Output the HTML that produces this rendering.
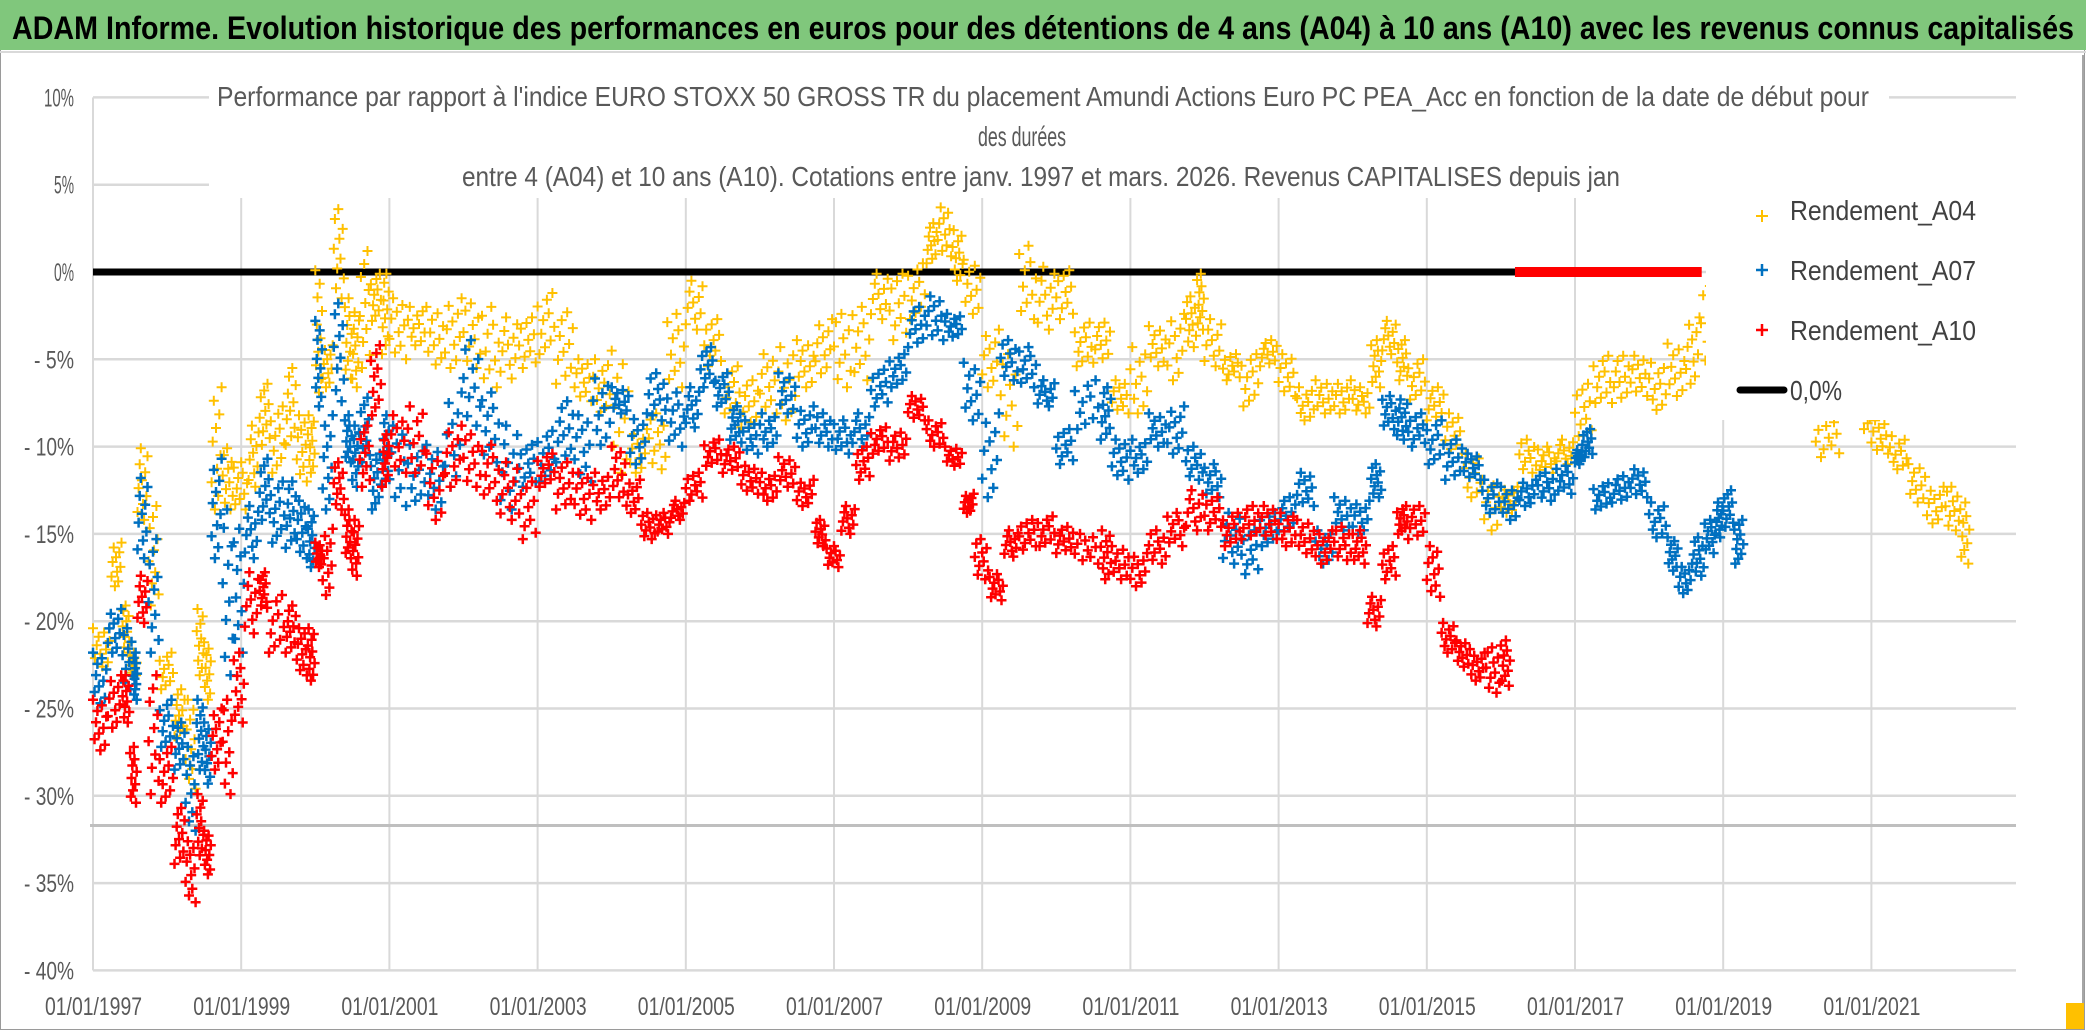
<!DOCTYPE html>
<html><head><meta charset="utf-8"><style>
html,body{margin:0;padding:0;background:#fff}
svg{display:block}
text{font-family:"Liberation Sans",sans-serif}
</style></head><body>
<svg id="chart" xmlns="http://www.w3.org/2000/svg" width="2086" height="1031" viewBox="0 0 2086 1031">
<rect x="0" y="0" width="2086" height="1031" fill="#fff"/>
<rect x="0.5" y="0.5" width="2084" height="1029" fill="none" stroke="#9a9a9a" stroke-width="1"/>
<line x1="2083" y1="55" x2="2083" y2="1028" stroke="#a6a6a6" stroke-width="2"/>
<rect x="0" y="0" width="2086" height="50" fill="#80c77c"/>
<line x1="0" y1="52" x2="2086" y2="52" stroke="#d9d9d9" stroke-width="2"/>
<text x="12" y="39" font-size="32" font-weight="bold" fill="#000" textLength="2062" lengthAdjust="spacingAndGlyphs">ADAM Informe. Evolution historique des performances en euros pour des détentions de 4 ans (A04) à 10 ans (A10) avec les revenus connus capitalisés</text>
<g id="grid"></g>
<rect x="209" y="58" width="1680" height="139" fill="#fff"/>
<text x="217" y="106" font-size="28" fill="#595959" textLength="1652" lengthAdjust="spacingAndGlyphs">Performance par rapport à l'indice EURO STOXX 50 GROSS TR  du placement Amundi Actions Euro PC PEA_Acc en fonction de la date de début pour</text>
<text x="978" y="146" font-size="28" fill="#595959" textLength="88" lengthAdjust="spacingAndGlyphs">des durées</text>
<text x="462" y="186" font-size="28" fill="#595959" textLength="1158" lengthAdjust="spacingAndGlyphs">entre 4 (A04) et 10 ans (A10). Cotations entre janv. 1997 et mars. 2026. Revenus CAPITALISES depuis jan</text>
<g id="ylabels"></g>
<g id="xlabels"></g>
<g id="zero"></g>
<g id="s04"></g>
<g id="s07"></g>
<g id="s10"></g>
<g id="legend">
<rect x="1706" y="178" width="310" height="242" fill="#fff"/>
<g><path d="M1756 216h12M1762 210v12" stroke="#ffc000" stroke-width="2"/><text x="1790" y="220" font-size="28" fill="#404040" textLength="186" lengthAdjust="spacingAndGlyphs">Rendement_A04</text></g>
<g><path d="M1756 270h12M1762 264v12" stroke="#0070c0" stroke-width="2.5"/><text x="1790" y="280" font-size="28" fill="#404040" textLength="186" lengthAdjust="spacingAndGlyphs">Rendement_A07</text></g>
<g><path d="M1756 330h12M1762 324v12" stroke="#ff0000" stroke-width="2.5"/><text x="1790" y="340" font-size="28" fill="#404040" textLength="186" lengthAdjust="spacingAndGlyphs">Rendement_A10</text></g>
<g><line x1="1740" y1="390" x2="1784" y2="390" stroke="#000" stroke-width="7" stroke-linecap="round"/><text x="1790" y="400" font-size="28" fill="#404040" textLength="52" lengthAdjust="spacingAndGlyphs">0,0%</text></g>
</g>
<rect x="2066" y="1003" width="18" height="26" fill="#ffc000"/>
</svg>
<script>
const yTicks = [10,5,0,-5,-10,-15,-20,-25,-30,-35,-40];
const yTickLabels = ["10%","5%","0%","- 5%","- 10%","- 15%","- 20%","- 25%","- 30%","- 35%","- 40%"];
const xTicks = [1997,1999,2001,2003,2005,2007,2009,2011,2013,2015,2017,2019,2021];
const xTickLabels = ["01/01/1997","01/01/1999","01/01/2001","01/01/2003","01/01/2005","01/01/2007","01/01/2009","01/01/2011","01/01/2013","01/01/2015","01/01/2017","01/01/2019","01/01/2021"];
const refLineValue = -31.7;

const a04Dates = [1997.0,1997.25,1997.4,1997.5,1997.6,1997.75,1997.9,1998.1,1998.25,1998.4,1998.5,1998.6,1998.75,1998.9,1999.1,1999.25,1999.4,1999.6,1999.75,1999.9,2000.0,2000.1,2000.25,2000.4,2000.5,2000.6,2000.75,2000.9,2001.0,2001.25,2001.5,2001.75,2002.0,2002.25,2002.5,2002.75,2003.0,2003.25,2003.5,2003.75,2004.0,2004.25,2004.5,2004.75,2005.0,2005.25,2005.5,2005.75,2006.0,2006.25,2006.5,2006.75,2007.0,2007.25,2007.5,2007.75,2008.0,2008.25,2008.4,2008.6,2008.75,2009.0,2009.25,2009.5,2009.75,2010.0,2010.25,2010.5,2010.75,2011.0,2011.25,2011.5,2011.75,2011.9,2012.0,2012.25,2012.5,2012.75,2013.0,2013.25,2013.5,2013.75,2014.0,2014.25,2014.4,2014.6,2014.75,2015.0,2015.25,2015.5,2015.75,2016.0,2016.25,2016.5,2016.75,2017.0,2017.25,2017.5,2017.75,2018.0,2018.25,2018.5,2018.7,2019.0,2019.5,2020.25,2020.6,2020.9,2021.0,2021.25,2021.5,2021.75,2022.0,2022.2];
const a04Hi = [-20.4,-15.5,-19.1,-21.8,-10.1,-13.4,-21.8,-23.9,-24.5,-19.3,-21.2,-6.6,-10.1,-10.9,-8.8,-6.4,-7.7,-5.5,-8.2,-8.2,0.1,-4.2,3.6,-1.5,-2.3,1.2,-0.1,-0.1,-1.5,-2.0,-2.0,-1.5,-1.8,-2.0,-2.6,-2.6,-1.2,-2.3,-5.0,-5.0,-4.5,-9.0,-8.1,-2.4,-0.5,-2.7,-5.4,-6.2,-4.7,-4.3,-3.9,-2.7,-2.4,-2.0,-0.1,-0.1,0.5,2.8,3.7,2.4,0.7,-3.3,-4.7,1.5,0.3,0.1,-2.9,-2.9,-6.2,-4.3,-3.1,-2.4,-1.4,-0.1,-2.7,-4.7,-4.7,-3.9,-4.7,-6.6,-6.2,-6.2,-6.6,-3.9,-2.8,-3.9,-5.0,-6.6,-8.1,-10.4,-11.9,-12.3,-9.6,-10.0,-9.6,-6.4,-4.8,-4.8,-4.8,-5.2,-4.1,-2.6,-0.8,-3.0,-4.0,-8.6,-6.0,-6.0,-8.5,-9.4,-11.0,-12.3,-12.3,-13.2];
const a04Lo = [-22.6,-18.0,-21.8,-23.1,-14.2,-19.1,-23.9,-26.6,-29.6,-23.1,-24.5,-13.6,-13.6,-13.6,-12.3,-9.9,-11.5,-9.9,-12.0,-11.5,-6.9,-6.6,-1.5,-6.1,-6.6,-5.5,-2.8,-4.7,-5.0,-4.2,-5.3,-5.5,-5.5,-6.6,-6.1,-5.5,-4.7,-6.4,-7.4,-8.0,-11.5,-11.5,-11.3,-6.6,-3.3,-5.4,-8.1,-8.9,-8.1,-8.5,-6.6,-5.8,-6.6,-6.2,-2.7,-3.9,-2.7,0.5,0.9,-0.5,-2.4,-6.6,-10.0,-2.7,-3.3,-2.7,-5.4,-5.2,-8.1,-8.1,-5.4,-6.2,-4.3,-3.3,-5.4,-6.2,-7.7,-5.4,-7.1,-8.5,-8.1,-8.1,-8.1,-6.6,-4.7,-6.2,-7.3,-8.5,-10.4,-12.9,-14.8,-13.8,-11.5,-11.5,-11.0,-9.4,-7.5,-7.5,-7.1,-7.9,-7.1,-6.4,-5.6,-7.0,-8.0,-10.6,-8.0,-9.0,-10.4,-11.3,-13.2,-14.4,-14.8,-16.7];

const a07Dates = [1997.0,1997.2,1997.4,1997.55,1997.6,1997.75,1997.9,1998.1,1998.25,1998.4,1998.5,1998.6,1998.75,1998.9,1999.05,1999.25,1999.4,1999.6,1999.75,1999.9,2000.0,2000.1,2000.25,2000.4,2000.5,2000.6,2000.75,2000.9,2001.0,2001.25,2001.5,2001.75,2002.0,2002.25,2002.5,2002.75,2003.0,2003.25,2003.5,2003.75,2004.0,2004.25,2004.5,2004.75,2005.0,2005.2,2005.4,2005.6,2005.75,2006.0,2006.25,2006.5,2006.75,2007.0,2007.25,2007.5,2007.75,2008.0,2008.25,2008.5,2008.75,2009.0,2009.25,2009.5,2009.75,2010.0,2010.25,2010.6,2010.75,2011.0,2011.25,2011.5,2011.75,2012.0,2012.25,2012.5,2012.75,2013.0,2013.25,2013.5,2013.75,2014.0,2014.25,2014.4,2014.6,2014.75,2015.0,2015.25,2015.5,2015.75,2016.0,2016.25,2016.5,2016.75,2017.0,2017.1,2017.25,2017.5,2017.75,2018.0,2018.25,2018.4,2018.6,2018.75,2018.9,2019.0,2019.15];
const a07Hi = [-21.8,-19.3,-20.4,-21.8,-11.8,-15.3,-24.5,-25.8,-27.2,-24.5,-25.8,-10.7,-13.6,-14.7,-13.4,-10.7,-12.0,-12.0,-13.1,-13.6,-2.8,-8.2,-1.8,-8.2,-8.8,-7.2,-10.4,-8.2,-8.8,-9.9,-9.9,-6.9,-3.9,-6.9,-8.8,-9.9,-9.1,-7.4,-8.2,-6.1,-6.6,-8.1,-5.8,-6.9,-6.6,-4.3,-5.8,-7.7,-8.5,-8.1,-5.8,-7.7,-8.1,-8.5,-8.1,-5.6,-4.7,-2.0,-1.4,-2.4,-5.2,-8.1,-3.9,-4.3,-6.2,-9.0,-6.2,-6.6,-9.6,-9.6,-8.1,-7.7,-10.0,-11.0,-13.8,-14.8,-13.8,-12.9,-11.5,-14.8,-12.9,-13.1,-11.0,-7.1,-7.3,-8.1,-8.5,-9.6,-10.4,-11.9,-12.3,-11.9,-11.5,-11.1,-10.2,-9.0,-12.1,-11.7,-11.3,-13.2,-15.2,-16.7,-15.2,-14.2,-13.2,-12.5,-14.2];
const a07Lo = [-24.7,-21.8,-23.9,-24.5,-16.4,-21.8,-27.2,-28.5,-32.0,-28.5,-29.3,-16.4,-23.1,-21.8,-16.4,-14.2,-15.5,-15.8,-16.4,-16.9,-7.7,-13.6,-7.4,-10.9,-12.3,-10.9,-13.6,-12.3,-13.4,-13.1,-13.6,-12.3,-8.8,-10.9,-13.6,-12.3,-12.0,-10.9,-12.0,-9.9,-8.1,-11.0,-8.5,-10.0,-8.9,-6.6,-7.7,-9.6,-10.4,-10.0,-8.1,-10.0,-10.0,-10.4,-10.0,-7.7,-6.6,-4.3,-3.9,-3.7,-8.5,-12.9,-6.2,-6.6,-7.7,-11.0,-9.0,-9.6,-11.9,-11.5,-10.0,-10.4,-11.9,-12.9,-16.7,-17.3,-15.7,-14.8,-13.4,-16.7,-14.8,-15.0,-12.9,-9.0,-9.6,-10.0,-11.0,-11.9,-11.9,-13.8,-14.2,-13.4,-13.1,-12.7,-11.0,-10.6,-13.6,-13.2,-12.9,-15.2,-17.1,-18.4,-17.4,-16.1,-15.2,-14.6,-16.7];

const a10Dates = [1997.0,1997.2,1997.4,1997.5,1997.6,1997.75,1997.9,1998.1,1998.25,1998.4,1998.5,1998.6,1998.75,1998.9,1999.05,1999.25,1999.35,1999.6,1999.75,1999.9,2000.0,2000.1,2000.25,2000.4,2000.5,2000.6,2000.75,2000.9,2001.0,2001.25,2001.5,2001.75,2002.0,2002.25,2002.5,2002.75,2003.0,2003.25,2003.5,2003.75,2004.0,2004.2,2004.4,2004.6,2004.8,2005.0,2005.25,2005.5,2005.75,2006.0,2006.25,2006.5,2006.75,2006.9,2007.1,2007.3,2007.5,2007.75,2008.0,2008.25,2008.5,2008.75,2008.9,2009.1,2009.3,2009.5,2009.75,2010.0,2010.25,2010.6,2010.75,2011.0,2011.25,2011.5,2011.75,2012.0,2012.25,2012.5,2012.75,2013.0,2013.25,2013.5,2013.75,2014.0,2014.2,2014.4,2014.6,2014.75,2015.0,2015.2,2015.4,2015.6,2015.8,2016.0];
const a10Hi = [-24.5,-23.1,-23.1,-27.2,-17.4,-23.1,-27.2,-30.7,-32.6,-29.9,-32.0,-25.0,-24.5,-21.8,-17.2,-17.2,-18.5,-19.1,-20.4,-20.4,-15.5,-14.7,-10.9,-13.6,-14.2,-8.8,-4.2,-9.3,-8.2,-7.7,-10.4,-8.8,-9.3,-9.9,-10.9,-12.0,-10.4,-10.9,-11.5,-11.5,-10.0,-11.9,-13.8,-13.8,-13.1,-11.5,-9.6,-10.0,-11.1,-11.5,-10.6,-11.9,-14.2,-15.7,-13.4,-10.0,-8.9,-9.2,-7.1,-8.5,-10.0,-12.7,-15.3,-17.3,-14.8,-14.2,-14.0,-14.6,-15.0,-14.8,-15.7,-16.1,-14.8,-13.8,-12.5,-12.9,-13.8,-13.4,-13.4,-13.8,-14.2,-14.8,-14.6,-14.8,-18.6,-15.7,-13.4,-13.4,-15.7,-20.1,-21.1,-21.8,-21.5,-21.1];
const a10Lo = [-27.4,-26.1,-25.8,-30.4,-20.1,-29.9,-30.4,-33.9,-36.1,-33.4,-34.5,-28.5,-29.9,-25.8,-20.7,-19.1,-21.8,-21.8,-23.1,-23.4,-16.9,-18.5,-13.6,-16.4,-17.4,-12.3,-8.2,-12.3,-11.5,-11.5,-14.2,-12.3,-12.3,-13.1,-14.2,-15.3,-12.3,-13.6,-14.2,-13.6,-12.9,-13.8,-15.3,-15.0,-14.2,-13.1,-11.1,-11.5,-12.7,-13.1,-12.3,-13.4,-15.7,-16.9,-15.0,-11.9,-10.4,-10.8,-8.5,-10.0,-11.1,-13.8,-17.6,-18.8,-16.3,-15.9,-15.7,-16.1,-16.7,-17.6,-17.6,-18.0,-16.7,-15.7,-14.8,-14.8,-15.7,-15.3,-15.3,-15.7,-16.1,-16.7,-16.5,-16.7,-20.3,-17.6,-15.0,-15.3,-18.6,-21.8,-22.6,-23.4,-24.1,-23.7];
const a10ZeroStart = 2016.19;
const a10ZeroEnd = 2018.71;
const zeroLineStart = 1997.0;

const NS = "http://www.w3.org/2000/svg";
function xS(year){ return 93 + (year - 1997) * 74.1; }
function yS(v){ return 272 - v * 17.46; }
function mk(tag, attrs, parent){
  const e = document.createElementNS(NS, tag);
  for (const k in attrs) e.setAttribute(k, attrs[k]);
  parent.appendChild(e);
  return e;
}

const grid = document.getElementById('grid');
yTicks.forEach(function(t){
  const l = mk('line', {x1:93, x2:2016, y1:yS(t), y2:yS(t), stroke:'#d9d9d9', 'stroke-width':2.5}, grid);
  
  
});
xTicks.forEach(function(t, i){
  if (i === 0) return;
  const l = mk('line', {x1:xS(t), x2:xS(t), y1:198, y2:yS(-40), stroke:'#d9d9d9', 'stroke-width':2}, grid);
  
  
});
const ax = mk('line', {x1:93, x2:93, y1:yS(10), y2:yS(-40), stroke:'#d9d9d9', 'stroke-width':2}, grid);


const rl = mk('line', {x1:90, x2:2016, y1:yS(refLineValue), y2:yS(refLineValue), stroke:'#bfbfbf', 'stroke-width':3}, grid);



const yl = document.getElementById('ylabels');
yTicks.forEach(function(t, i){
  const tx = mk('text', {x:74, y:yS(t)+9, 'text-anchor':'end', 'font-size':25, fill:'#595959', textLength: yTickLabels[i].length * 10, lengthAdjust:'spacingAndGlyphs'}, yl);
  tx.textContent = yTickLabels[i];
  
  
});
const xl = document.getElementById('xlabels');
xTicks.forEach(function(t, i){
  const tx = mk('text', {x:xS(t)-48, y:1015, 'font-size':25, fill:'#595959', textLength:97, lengthAdjust:'spacingAndGlyphs'}, xl);
  tx.textContent = xTickLabels[i];
  
  
});

const zg = document.getElementById('zero');
const zl = mk('line', {x1:xS(zeroLineStart), x2:xS(a10ZeroStart), y1:yS(0), y2:yS(0), stroke:'#000', 'stroke-width':7}, zg);



const permX = [0,6,3,9,2,7,4,1,8,5];
function drawSeries(gid, dates, hi, lo, color, sw){
  const g = document.getElementById(gid);
  let d = '';
  const n = 10;
  for (let i = 0; i < dates.length; i++){
    const step = i < dates.length - 1 ? (xS(dates[i+1]) - xS(dates[i])) : 10;
    for (let k = 0; k < n; k++){
      const v = hi[i] + (lo[i] - hi[i]) * k / (n - 1);
      const off = (permX[(k + i * 3) % n] / n) * step;
      const x = xS(dates[i]) + off;
      const y = yS(v);
      d += 'M' + (x-5).toFixed(1) + ' ' + y.toFixed(1) + 'h10M' + x.toFixed(1) + ' ' + (y-5).toFixed(1) + 'v10';
    }
  }
  const p = mk('path', {d:d, stroke:color, 'stroke-width':sw, fill:'none'}, g);
  
  
}
drawSeries('s04', a04Dates, a04Hi, a04Lo, '#ffc000', 2);
drawSeries('s07', a07Dates, a07Hi, a07Lo, '#0070c0', 2.5);
drawSeries('s10', a10Dates, a10Hi, a10Lo, '#ff0000', 2.5);
const rz = mk('rect', {x:xS(a10ZeroStart), y:yS(0)-5, width:xS(a10ZeroEnd)-xS(a10ZeroStart), height:10, fill:'#ff0000'}, document.getElementById('s10'));



const svg = document.getElementById('chart');
svg.appendChild(document.getElementById('legend'));
</script>
</body></html>
